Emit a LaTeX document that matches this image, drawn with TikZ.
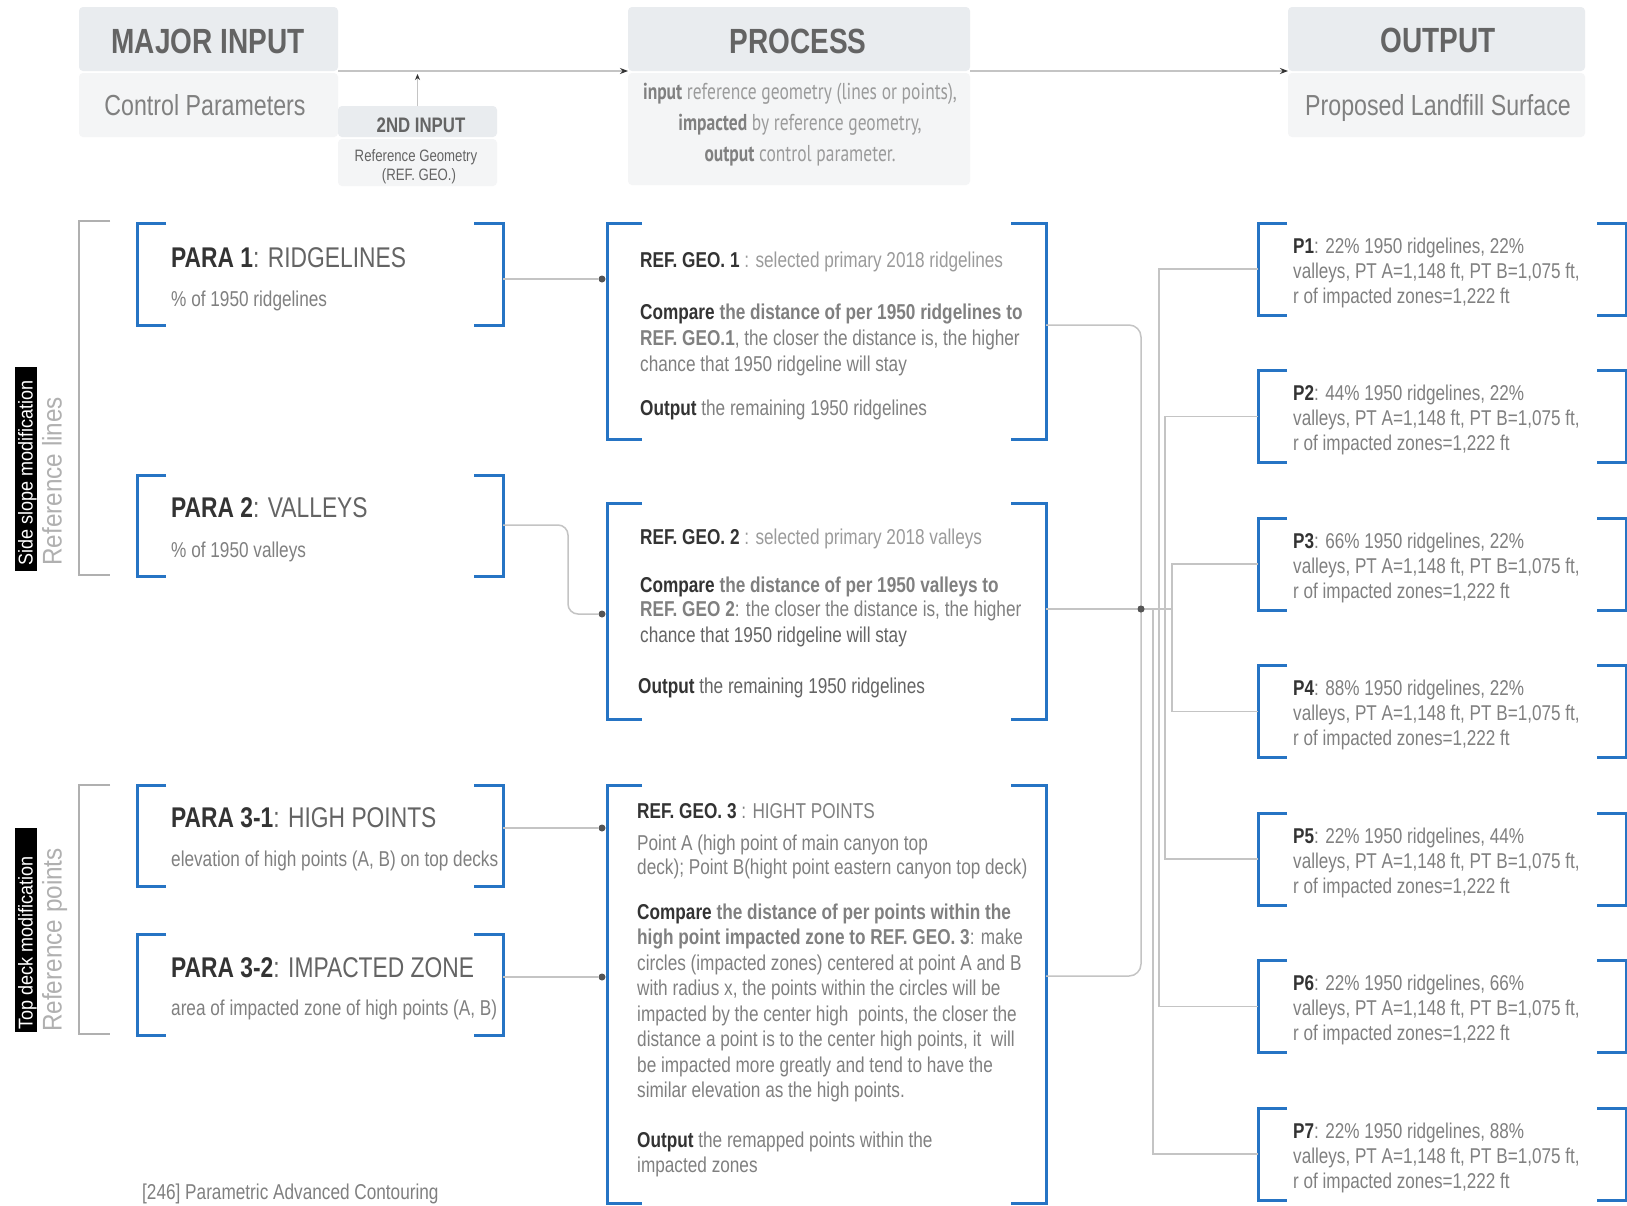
\documentclass[tikz,border=0pt]{standalone}
\usepackage{fontspec}
\setmainfont[FakeStretch=0.8]{Liberation Sans}
\newfontfamily\sidefont[FakeStretch=0.9]{Liberation Sans}
\newfontfamily\procfont[FakeStretch=0.76]{PT Sans}
\usetikzlibrary{calc,arrows.meta}

\definecolor{brblue}{RGB}{38,116,196}
\definecolor{grpgray}{RGB}{176,176,176}
\definecolor{linegray}{RGB}{196,196,196}
\definecolor{hdrfill}{RGB}{233,236,239}
\definecolor{subfill}{RGB}{244,245,246}
\definecolor{tdark}{RGB}{51,51,51}
\definecolor{tmid}{RGB}{100,100,100}
\definecolor{tgray}{RGB}{128,128,128}
\definecolor{tlight}{RGB}{155,155,155}
\definecolor{sidegray}{RGB}{176,176,176}
\definecolor{dotgray}{RGB}{85,85,85}

\newcommand\fsz[1]{\fontsize{#1}{#1}\selectfont}
\newcommand\bd[1]{{\bfseries\color{tdark}#1}}
\newcommand\bg[1]{{\bfseries\color{tgray}#1}}
% square brackets on both sides of a frame node: node, arm length, style
\newcommand\bothbr[3]{%
  \draw[#3] ($(#1.north west)+(#2,0)$) -- (#1.north west) -- (#1.south west) -- ($(#1.south west)+(#2,0)$);
  \draw[#3] ($(#1.north east)+(-#2,0)$) -- (#1.north east) -- (#1.south east) -- ($(#1.south east)+(-#2,0)$);}
% a single opening bracket
\newcommand\leftbr[3]{%
  \draw[#3] ($(#1.north west)+(#2,0)$) -- (#1.north west) -- (#1.south west) -- ($(#1.south west)+(#2,0)$);}

\begin{document}
\begin{tikzpicture}[x=1pt, y=-1pt,
  hdr/.style={fill=hdrfill, rounded corners=4pt, inner sep=0pt, outer sep=0pt, anchor=north west},
  subbox/.style={fill=subfill, rounded corners=4pt, inner sep=0pt, outer sep=0pt, anchor=north west},
  frame/.style={inner sep=0pt, outer sep=0pt, anchor=north west},
  bluebr/.style={draw=brblue, line width=3pt},
  grpbr/.style={draw=grpgray, line width=2pt},
  conn/.style={draw=linegray, line width=1.5pt},
  arrowline/.style={draw=linegray, line width=1.3pt, -{Stealth[length=8pt,width=6pt,color=tdark]}},
  txt/.style={anchor=base west, inner sep=0pt, text=tgray},
  ctxt/.style={anchor=base, inner sep=0pt},
  dot/.style={circle, fill=dotgray, inner sep=0pt, minimum size=7pt},
  sidebox/.style={fill=black, inner sep=0pt, outer sep=0pt, anchor=north west, minimum width=22pt},
  sidetxt/.style={anchor=base west, rotate=90, inner sep=0pt, font=\sidefont\fsz{20}, text=white},
  reftxt/.style={anchor=base west, rotate=90, inner sep=0pt, font=\sidefont\fsz{27}, text=sidegray},
  boxtxt/.style={txt, font=\fsz{21.5}},
  ptxt/.style={txt, font=\fsz{21.4}},
]
\useasboundingbox (0,0) rectangle (1627,1205);
\fill[white] (0,0) rectangle (1627,1205);

% ---------- column headers ----------
\node[hdr, minimum width=259pt, minimum height=64pt] (majh) at (79,7) {};
\node[subbox, minimum width=259pt, minimum height=64pt] (majs) at (79,73) {};
\node[hdr, minimum width=342pt, minimum height=64pt] (proch) at (628,7) {};
\node[subbox, minimum width=342pt, minimum height=112pt] (procs) at (628,73) {};
\node[hdr, minimum width=297pt, minimum height=64pt] (outh) at (1288,7) {};
\node[subbox, minimum width=297pt, minimum height=64pt] (outs) at (1288,73) {};
\node[hdr, minimum width=159pt, minimum height=31pt] (in2h) at (338,106) {};
\node[subbox, minimum width=159pt, minimum height=47pt] (in2s) at (338,139) {};

\node[ctxt, font=\bfseries\fsz{35}, text=tmid] (majt) at (208,53) {MAJOR INPUT};
\node[ctxt, font=\fsz{29}, text=tgray] (majst) at (205,115) {Control Parameters};
\node[ctxt, font=\bfseries\fsz{21}, text=tmid] (in2t) at (421,132) {2ND INPUT};
\node[ctxt, font=\fsz{16.5}, text=tmid] (in2s1) at (416,161) {Reference Geometry};
\node[ctxt, font=\fsz{16.5}, text=tmid] (in2s2) at (419,180) {(REF. GEO.)};
\node[ctxt, font=\bfseries\fsz{35}, text=tmid] (proct) at (798,53) {PROCESS};
\node[ctxt, font=\procfont\fsz{23}, text=tlight] (procl1) at (800,99) {{\bfseries\color{tgray}input} reference geometry (lines or points),};
\node[ctxt, font=\procfont\fsz{23}, text=tlight] (procl2) at (800,130) {{\bfseries\color{tgray}impacted} by reference geometry,};
\node[ctxt, font=\procfont\fsz{23}, text=tlight] (procl3) at (800,161) {{\bfseries\color{tgray}output} control parameter.};
\node[ctxt, font=\bfseries\fsz{35}, text=tmid] (outt) at (1438,52) {OUTPUT};
\node[ctxt, font=\fsz{29}, text=tgray] (outst) at (1438,115) {Proposed Landfill Surface};

\draw[arrowline] (majh.south east) -- (proch.south west);
\draw[arrowline] (proch.south east) -- (outh.south west);
\draw[draw=linegray, line width=1.2pt, -{Stealth[length=6pt,width=5pt,color=tdark]}]
  (in2h.north) -- ($(in2h.north |- majh.south)+(0,3)$);

% ---------- side labels ----------
\node[sidebox, minimum height=204pt] (lab1) at (15,367) {};
\node[sidetxt] (lab1t) at (32.5,566) {Side slope modification};
\node[reftxt] (ref1t) at (61.5,566) {Reference lines};
\node[sidebox, minimum height=204pt] (lab2) at (15,828) {};
\node[sidetxt] (lab2t) at (32.5,1030) {Top deck modification};
\node[reftxt] (ref2t) at (61.5,1032) {Reference points};

\node[frame, minimum width=31pt, minimum height=354pt] (grp1) at (79,221) {};
\node[frame, minimum width=31pt, minimum height=249pt] (grp2) at (79,785) {};
\leftbr{grp1}{31}{grpbr}
\leftbr{grp2}{31}{grpbr}

% ---------- control parameters ----------
\node[frame, minimum width=366pt, minimum height=102pt] (para1) at (137,223) {};
\node[frame, minimum width=366pt, minimum height=101pt] (para2) at (137,475) {};
\node[frame, minimum width=366pt, minimum height=101pt] (para31) at (137,785) {};
\node[frame, minimum width=366pt, minimum height=101pt] (para32) at (137,934) {};
\foreach \n in {para1,para2,para31,para32} {\bothbr{\n}{29}{bluebr}}

\node[txt, font=\fsz{28.5}] (para1t) at (171,267) {\bd{PARA 1}{\color{tmid}: RIDGELINES}};
\node[txt, font=\fsz{21.5}] (para1s) at (171,306) {\% of 1950 ridgelines};
\node[txt, font=\fsz{28.5}] (para2t) at (171,517) {\bd{PARA 2}{\color{tmid}: VALLEYS}};
\node[txt, font=\fsz{21.5}] (para2s) at (171,557) {\% of 1950 valleys};
\node[txt, font=\fsz{28.5}] (para31t) at (171,827) {\bd{PARA 3-1}{\color{tmid}: HIGH POINTS}};
\node[txt, font=\fsz{21.5}] (para31s) at (171,866) {elevation of high points (A, B) on top decks};
\node[txt, font=\fsz{28.5}] (para32t) at (171,977) {\bd{PARA 3-2}{\color{tmid}: IMPACTED ZONE}};
\node[txt, font=\fsz{21.5}] (para32s) at (171,1015) {area of impacted zone of high points (A, B)};

% ---------- process steps ----------
\node[frame, minimum width=439pt, minimum height=216pt] (box1) at (607,223) {};
\node[frame, minimum width=439pt, minimum height=216pt] (box2) at (607,503) {};
\node[frame, minimum width=439pt, minimum height=418pt] (box3) at (607,785) {};
\foreach \n in {box1,box2,box3} {\bothbr{\n}{35}{bluebr}}

\node[boxtxt] (b1l1) at (640,267) {\bd{REF. GEO. 1}\ {\color{tlight}: selected primary 2018 ridgelines}};
\node[boxtxt] (b1l2) at (640,319) {\bd{Compare} \bg{the distance of per 1950 ridgelines to}};
\node[boxtxt] (b1l3) at (640,345) {\bg{REF. GEO.1}, the closer the distance is, the higher};
\node[boxtxt] (b1l4) at (640,371) {chance that 1950 ridgeline will stay};
\node[boxtxt] (b1l5) at (640,415) {\bd{Output} the remaining 1950 ridgelines};

\node[boxtxt] (b2l1) at (640,544) {\bd{REF. GEO. 2}\ {\color{tlight}: selected primary 2018 valleys}};
\node[boxtxt] (b2l2) at (640,592) {\bd{Compare} \bg{the distance of per 1950 valleys to}};
\node[boxtxt] (b2l3) at (640,616) {\bg{REF. GEO 2}: the closer the distance is, the higher};
\node[boxtxt, text=tmid] (b2l4) at (640,642) {chance that 1950 ridgeline will stay};
\node[boxtxt, text=tmid] (b2l5) at (638,693) {\bd{Output} the remaining 1950 ridgelines};

\node[boxtxt] (b3l1) at (637,818) {\bd{REF. GEO. 3}\ {\color{tgray}: HIGHT POINTS}};
\node[boxtxt] (b3l2) at (637,850) {Point A (high point of main canyon top};
\node[boxtxt] (b3l3) at (637,874) {deck); Point B(hight point eastern canyon top deck)};
\node[boxtxt] (b3l4) at (637,919) {\bd{Compare} \bg{the distance of per points within the}};
\node[boxtxt] (b3l5) at (637,944) {\bg{high point impacted zone to REF. GEO. 3}: make};
\node[boxtxt] (b3l6) at (637,970) {circles (impacted zones) centered at point A and B};
\node[boxtxt] (b3l7) at (637,995) {with radius x, the points within the circles will be};
\node[boxtxt] (b3l8) at (637,1021) {impacted by the center high\ \ points, the closer the};
\node[boxtxt] (b3l9) at (637,1046) {distance a point is to the center high points, it\ \ will};
\node[boxtxt] (b3l10) at (637,1072) {be impacted more greatly and tend to have the};
\node[boxtxt] (b3l11) at (637,1097) {similar elevation as the high points.};
\node[boxtxt] (b3l12) at (637,1147) {\bd{Output} the remapped points within the};
\node[boxtxt] (b3l13) at (637,1172) {impacted zones};

% ---------- parameter to process connectors ----------
\node[dot] (d1) at (602,279) {};
\node[dot] (d2) at (602,614) {};
\node[dot] (d3) at (602,828) {};
\node[dot] (d4) at (602,977) {};
\coordinate (k2) at (568,525);
\draw[conn] (para1.east |- d1) -- (d1);
\draw[conn, rounded corners=10pt] (para2.east |- k2) -- (k2) -- (k2 |- d2) -- (d2);
\draw[conn] (para31.east |- d3) -- (d3);
\draw[conn] (para32.east |- d4) -- (d4);

% ---------- outputs ----------
\foreach \i/\a/\b in {1/22/22, 2/44/22, 3/66/22, 4/88/22, 5/22/44, 6/22/66, 7/22/88} {
  \node[frame, minimum width=368pt, minimum height=92pt] (p\i) at (1258,{223+147.5*(\i-1)}) {};
  \bothbr{p\i}{29}{bluebr}
  \node[ptxt] (p\i l1) at ($(p\i.north west)+(35,30)$) {\bd{P\i}: \a\% 1950 ridgelines, \b\%};
  \node[ptxt] (p\i l2) at ($(p\i.north west)+(35,55)$) {valleys, PT A=1,148 ft, PT B=1,075 ft,};
  \node[ptxt] (p\i l3) at ($(p\i.north west)+(35,80)$) {r of impacted zones=1,222 ft};
}

% ---------- process to output connectors ----------
\node[dot] (jdot) at (1141,609) {};
\coordinate (r1) at (1141,325);
\coordinate (r3) at (1141,976);
\draw[conn, rounded corners=12pt] (r1 -| box1.east) -- (r1) -- (jdot);
\draw[conn, rounded corners=12pt] (r3 -| box3.east) -- (r3) -- (jdot);
\draw[conn] (jdot -| box2.east) -- (jdot);
\draw[conn] (jdot) -- ($(jdot)+(31,0)$);
\draw[conn] (p1.west) -| ($(p6.west)+(-99,0)$) -- (p6.west);
\draw[conn] (p2.west) -| ($(p5.west)+(-93,0)$) -- (p5.west);
\draw[conn] (p3.west) -| ($(p4.west)+(-86,0)$) -- (p4.west);
\draw[conn] (p7.west) -| ($(jdot)+(12,0)$);
\node[dot] (jdot2) at (jdot) {};

% ---------- footer ----------
\node[txt, font=\fsz{21.5}] (foot) at (142,1199) {[246] Parametric Advanced Contouring};
\end{tikzpicture}
\end{document}
